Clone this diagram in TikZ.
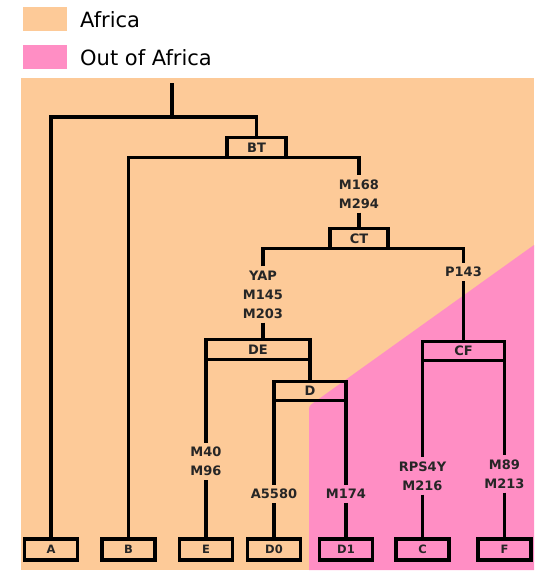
\documentclass[tikz,border=0pt]{standalone}
\usepackage{fontspec}
\setmainfont{DejaVu Sans}
\definecolor{africa}{HTML}{FDCA98}
\definecolor{outafrica}{HTML}{FF8EC4}

\begin{document}
\begin{tikzpicture}[
  x=1pt, y=-1pt,
  every node/.style={font=\bfseries\fontsize{13}{19}\selectfont, text=black!85},
  branch/.style={line width=3.2pt},
  clade/.style={draw, line width=3.2pt, outer sep=0pt, inner sep=0pt,
                minimum height=19.5pt},
  leaf/.style={draw, line width=3.2pt, outer sep=0pt, inner sep=0pt,
               minimum width=53pt, minimum height=21pt,
               font=\bfseries\fontsize{11.5}{13}\selectfont},
  snp/.style={align=center, inner sep=4pt},
  legendtext/.style={font=\fontsize{21}{25}\selectfont, text=black,
                     anchor=base west, inner sep=0pt}
]
  \useasboundingbox (0,0) rectangle (539,571);

  % Legend
  \fill[africa]    (23,7)  rectangle (67,31);
  \fill[outafrica] (23,45) rectangle (67,69);
  \node[legendtext] (lafrica) at (80,27) {Africa};
  \node[legendtext] (lout)    at (80,65) {Out of Africa};

  % Regions
  \fill[africa] (21,78) rectangle (534,570);
  \fill[outafrica] (309,570) -- (309,412) .. controls (309,406) .. (314,402.4)
                   -- (534,245) -- (534,570) -- cycle;

  % Haplogroups (leaves)
  \node[leaf] (A)  at (51,549.5)    {A};
  \node[leaf] (B)  at (128.5,549.5) {B};
  \node[leaf] (E)  at (206,549.5)   {E};
  \node[leaf] (D0) at (274,549.5)   {D0};
  \node[leaf] (D1) at (346,549.5)   {D1};
  \node[leaf] (C)  at (422.5,549.5) {C};
  \node[leaf] (F)  at (504.5,549.5) {F};

  % Clades
  \node[clade, minimum width=59pt] (BT) at (256.5,147.5) {BT};
  \node[clade, minimum width=58pt] (CT) at (359,238.5)   {CT};
  \node[clade, minimum width=104pt] (DE) at (258,349.5)  {DE};
  \node[clade, minimum width=72pt] (D)  at (310,391)     {D};
  \node[clade, minimum width=82pt] (CF) at (463.5,351)   {CF};

  % Markers on the branches
  \node[snp] (m168)  at (359,194)     {M168\\M294};
  \node[snp] (yap)   at (263,294.5)   {YAP\\M145\\M203};
  \node[snp] (p143)  at (463.5,272)   {P143};
  \node[snp] (m40)   at (206,461.5)   {M40\\M96};
  \node[snp] (a5580) at (274,494)     {A5580};
  \node[snp] (m174)  at (346,494)     {M174};
  \node[snp] (rps4y) at (422.5,476)   {RPS4Y\\M216};
  \node[snp] (m89)   at (504.5,474)   {M89\\M213};

  \coordinate (root)     at (172,83);
  \coordinate (rootfork) at (172,117);

  % Branches
  \draw[branch] (root) -- (rootfork);
  \draw[branch] (A.north) |- (BT.north |- rootfork) -- (BT.north);
  \draw[branch] (B.north) |- (m168.north |- BT.south) -- (m168.north);
  \draw[branch] (m168.south) -- (CT.north);
  \draw[branch] (yap.north) |- (CT.south) -| (p143.north);
  \draw[branch] (yap.south) -- (yap.south |- DE.north);
  \draw[branch] (DE.south west) -- (m40.north);
  \draw[branch] (m40.south) -- (E.north);
  \draw[branch] (DE.south east) -- (D.north);
  \draw[branch] (D.south west) -- (a5580.north);
  \draw[branch] (a5580.south) -- (D0.north);
  \draw[branch] (D.south east) -- (m174.north);
  \draw[branch] (m174.south) -- (D1.north);
  \draw[branch] (p143.south) -- (CF.north);
  \draw[branch] (CF.south west) -- (rps4y.north);
  \draw[branch] (rps4y.south) -- (C.north);
  \draw[branch] (CF.south east) -- (m89.north);
  \draw[branch] (m89.south) -- (F.north);
\end{tikzpicture}
\end{document}
